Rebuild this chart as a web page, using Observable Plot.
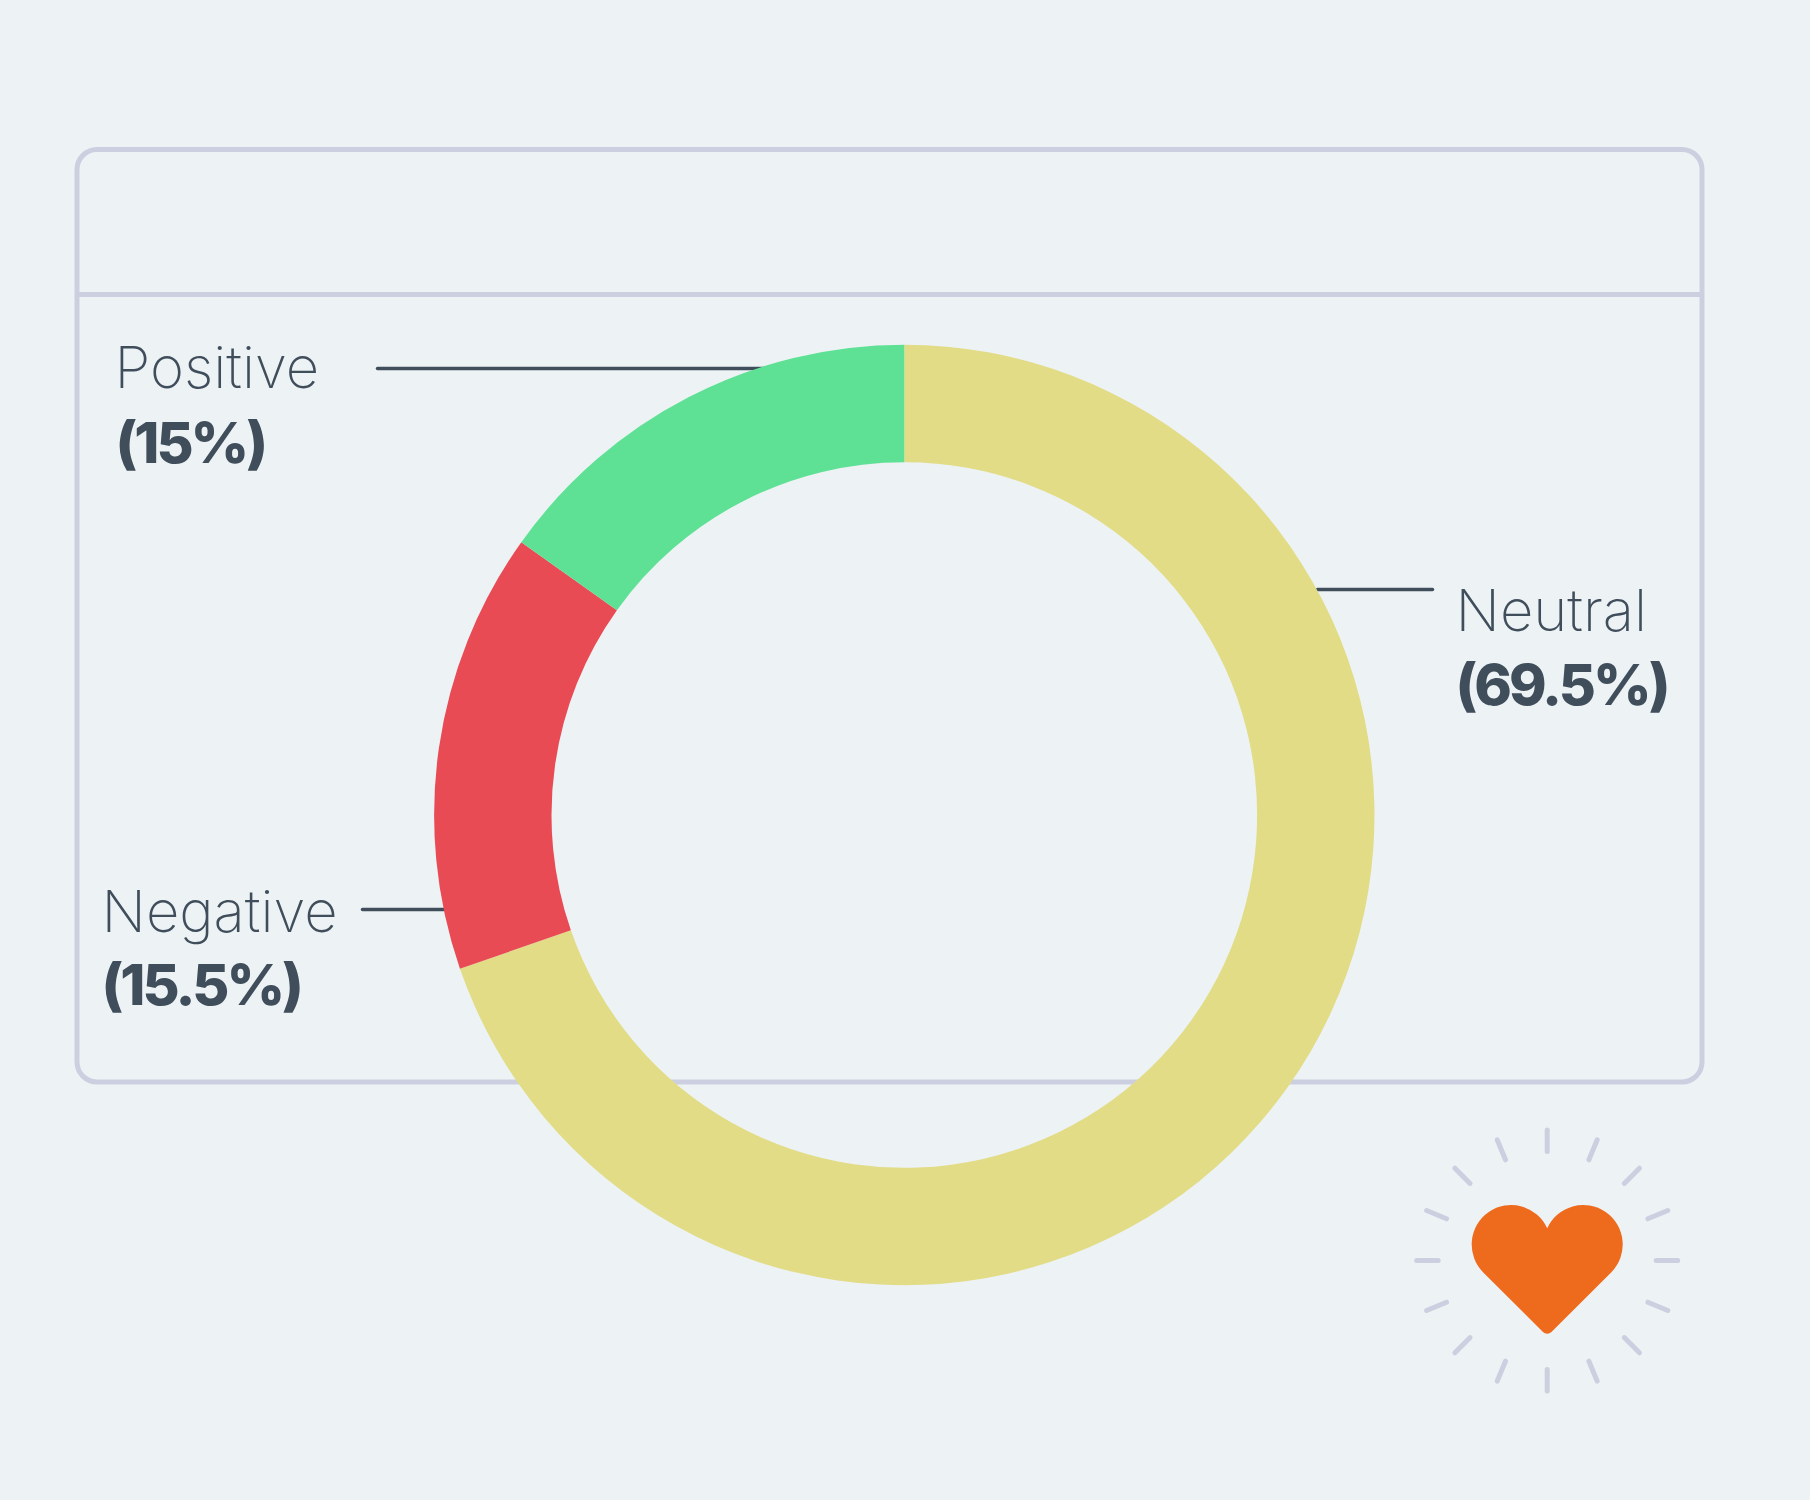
<!DOCTYPE html>
<html>
<head>
<meta charset="utf-8">
<script src="https://cdn.jsdelivr.net/npm/d3@7"></script>
<script src="https://cdn.jsdelivr.net/npm/@observablehq/plot@0.6"></script>
<style>
html,body{margin:0;padding:0;background:#EDF3F5;}
svg text{font-variant-ligatures:none;}
svg .share-label text{letter-spacing:-3px;}
</style>
</head>
<body>
<div id="chart"></div>
<script>
const categories = ["Neutral", "Negative", "Positive"];
const shares = [69.7, 15.15, 15.15];
const shareLabels = ["(69.5%)", "(15.5%)", "(15%)"];
const sliceColors = ["#E2DC87", "#E94B55", "#5FE195"];

// Layout
const W = 1810, H = 1500;
const center = {x: 904.3, y: 815}, rOuter = 470.2, rInner = 352.8;
const frame = {x1: 77, x2: 1702, y1: 149.5, y2: 1082, divider: 294};
const ink = "#404E5C", frameColor = "#CBCFE0";
const nameFont = "Inter", shareFont = "Inter";
const labelPlaces = [
  {x: 1455, yName: 630, yShare: 704, xShare: 1455, lead: [1317, 1432, 589]},
  {x: 101, yName: 931, yShare: 1004, xShare: 101, lead: [362, 450, 909]},
  {x: 114, yName: 387, yShare: 462, xShare: 115, lead: [377, 780, 368]}
];
const rows = categories.map((name, i) => ({name, share: shares[i], label: shareLabels[i], ...labelPlaces[i]}));

// Heart badge
const badge = {x: 1546.7, y: 1260, rayIn: 109, rayOut: 130.5, rays: 16};
const rays = d3.range(badge.rays).map(i => (i * 2 * Math.PI) / badge.rays);
const deg = Math.PI / 180;
const heartSymbol = {
  draw(c) {
    const r = 39.5, dx = 36, dy = -16, tipY = 67.3, tipR = 6;
    const notch = Math.atan2(-16.3, 36);
    c.moveTo(0, -32.3);
    c.arc(-dx, dy, r, notch, 135 * deg, true);
    c.lineTo(-4.2, 71.5);
    c.arc(0, tipY, tipR, 135 * deg, 45 * deg, true);
    c.lineTo(dx + r * Math.SQRT1_2, dy + r * Math.SQRT1_2);
    c.arc(dx, dy, r, 45 * deg, -Math.PI - notch, true);
    c.closePath();
  }
};

const pie = d3.pie().sort(null).value(d => d.share)(rows);
const arc = d3.arc().innerRadius(rInner).outerRadius(rOuter);

function renderDonut(index, scales, values) {
  const g = d3.create("svg:g");
  for (const i of index) {
    g.append("path")
      .attr("d", arc(pie[i]))
      .attr("transform", `translate(${values.x[i]},${values.y[i]})`)
      .attr("fill", values.fill[i])
      .append("title").text(`${rows[i].name} ${rows[i].label}`);
  }
  return g.node();
}

const plot = Plot.plot({
  width: W, height: H, margin: 0,
  style: {background: "transparent"},
  x: {domain: [0, W], range: [0, W], axis: null},
  y: {domain: [0, H], range: [0, H], axis: null},
  color: {domain: categories, range: sliceColors},
  marks: [
    Plot.rect([frame], {x1: "x1", x2: "x2", y1: "y1", y2: "y2", fill: "none", stroke: frameColor, strokeWidth: 5, rx: 20}),
    Plot.ruleY([frame.divider], {x1: frame.x1, x2: frame.x2, stroke: frameColor, strokeWidth: 5}),
    Plot.link(rows, {x1: d => d.lead[0], x2: d => d.lead[1], y1: d => d.lead[2], y2: d => d.lead[2], stroke: ink, strokeWidth: 3.5, strokeLinecap: "round"}),
    Plot.dot(rows, {x: () => center.x, y: () => center.y, fill: "name", render: renderDonut}),
    Plot.text(rows, {x: "x", y: "yName", text: "name", textAnchor: "start", lineAnchor: "bottom", fill: ink, fontFamily: nameFont, fontWeight: 200, fontSize: 58}),
    Plot.text(rows, {x: "xShare", y: "yShare", text: "label", textAnchor: "start", lineAnchor: "bottom", fill: ink, fontFamily: shareFont, fontWeight: 800, fontSize: 57, className: "share-label"}),
    Plot.link(rays, {
      x1: a => badge.x + badge.rayIn * Math.sin(a), y1: a => badge.y - badge.rayIn * Math.cos(a),
      x2: a => badge.x + badge.rayOut * Math.sin(a), y2: a => badge.y - badge.rayOut * Math.cos(a),
      stroke: frameColor, strokeWidth: 5, strokeLinecap: "round"
    }),
    Plot.dot([badge], {x: "x", y: "y", r: 40, symbol: heartSymbol, fill: "#EE6B1E"})
  ]
});
document.getElementById("chart").appendChild(plot);
</script>
</body>
</html>
